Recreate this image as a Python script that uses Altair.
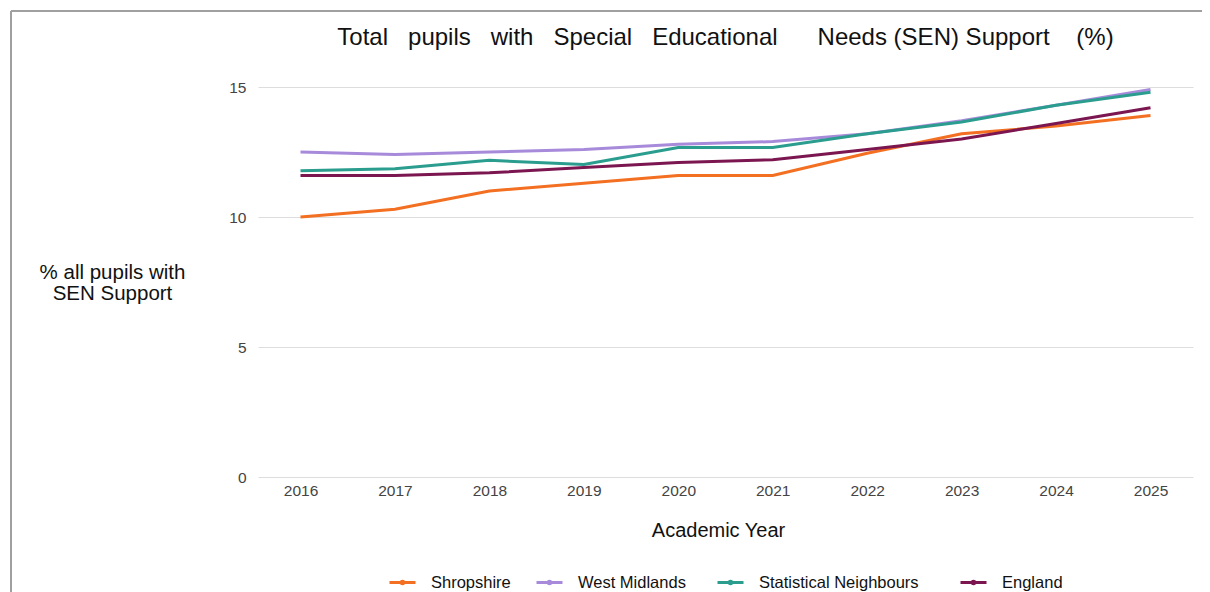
import altair as alt
import pandas as pd

years = [2016, 2017, 2018, 2019, 2020, 2021, 2022, 2023, 2024, 2025]
series_names = ["Shropshire", "West Midlands", "Statistical Neighbours", "England"]
shropshire = [10.0, 10.3, 11.0, 11.3, 11.6, 11.6, 12.45, 13.2, 13.5, 13.9]
west_midlands = [12.5, 12.4, 12.5, 12.6, 12.8, 12.9, 13.2, 13.7, 14.3, 14.9]
stat_neighbours = [11.78, 11.86, 12.18, 12.02, 12.67, 12.67, 13.2, 13.65, 14.3, 14.8]
england = [11.6, 11.6, 11.7, 11.9, 12.1, 12.2, 12.6, 13.0, 13.6, 14.2]
colors = ["#F36F21", "#A78BDA", "#2A9D8F", "#7B1650"]
legend_x = [130, 277, 458, 701]

NB = "\u00a0"
title_words = ["Total", "pupils", "with", "Special", "Educational", "Needs", "(SEN)", "Support", "(%)"]
title_gaps = [3, 3, 3, 3, 6, 1, 1, 4]
title_text = title_words[0]
for g, w in zip(title_gaps, title_words[1:]):
    title_text += NB * (g - 1) + " " + w

rows = []
for name, vals in zip(series_names, [shropshire, west_midlands, stat_neighbours, england]):
    for y, v in zip(years, vals):
        rows.append({"Year": str(y), "Value": v, "Series": name})
df = pd.DataFrame(rows)

W, H = 935, 390
PL, PT, PR, PB = 250, 79, 9, 115
FONT = "Liberation Sans"

x_enc = alt.X("Year:O", scale=alt.Scale(type="point", padding=0.45),
              axis=alt.Axis(title="Academic Year", labelAngle=0, grid=False, domain=False,
                            ticks=False, labelPadding=6, labelFontSize=15.5, labelColor="#444",
                            labelFont=FONT, titleFont=FONT,
                            titleFontSize=20, titleFontWeight="normal", titleColor="#111",
                            titleX=460, titleY=53, titleBaseline="middle", titleAnchor="start",
                            titleAlign="center"))
y_enc = alt.Y("Value:Q", scale=alt.Scale(domain=[0, 15]),
              axis=alt.Axis(values=[0, 5, 10, 15], title=["% all pupils with", "SEN Support"],
                            titleAngle=0, titleX=-146, titleY=175, titleAlign="center",
                            titleBaseline="top", titleLineHeight=21,
                            grid=True, gridColor="#DDDDDD", domain=False, ticks=False,
                            labelPadding=12, labelFontSize=15.5, labelColor="#444",
                            labelFont=FONT, titleFont=FONT,
                            titleFontSize=20.5, titleFontWeight="normal", titleColor="#111"))

layers = []
for name, col, lx in zip(series_names, colors, legend_x):
    layers.append(
        alt.Chart(df).transform_filter(alt.datum.Series == name).mark_line(strokeWidth=3).encode(
            x=x_enc, y=y_enc,
            color=alt.Color("Series:N", scale=alt.Scale(domain=[name], range=[col]),
                            legend=alt.Legend(title=None, orient="none", direction="horizontal",
                                              legendX=lx, legendY=481,
                                              symbolType="M-1,0H1M-0.1,0A0.1,0.1 0 1,0 0.1,0A0.1,0.1 0 1,0 -0.1,0",
                                              symbolSize=676, symbolStrokeWidth=3,
                                              labelFont=FONT, labelFontSize=16.5,
                                              labelColor="#111", labelOffset=14)),
        )
    )

border = alt.Chart(pd.DataFrame({"a": [0]})).mark_rule(color="#A0A0A0", strokeWidth=2, clip=False).encode(
    x=alt.value(-247), x2=alt.value(952), y=alt.value(-76))
border2 = alt.Chart(pd.DataFrame({"a": [0]})).mark_rule(color="#A0A0A0", strokeWidth=2, clip=False).encode(
    x=alt.value(-247), y=alt.value(-76), y2=alt.value(510))

chart = alt.layer(border, border2, *layers).resolve_scale(color="independent").properties(
    width=W, height=H,
    title=alt.TitleParams(title_text, font=FONT, fontSize=24, fontWeight="normal", color="#111",
                          anchor="middle", offset=0, dy=40),
    autosize=alt.AutoSizeParams(type="none"),
    padding={"left": PL, "top": PT, "right": PR, "bottom": PB},
).configure(background="white").configure_view(stroke=None)

chart.save("out.html", embed_options={"renderer": "svg", "actions": False})
